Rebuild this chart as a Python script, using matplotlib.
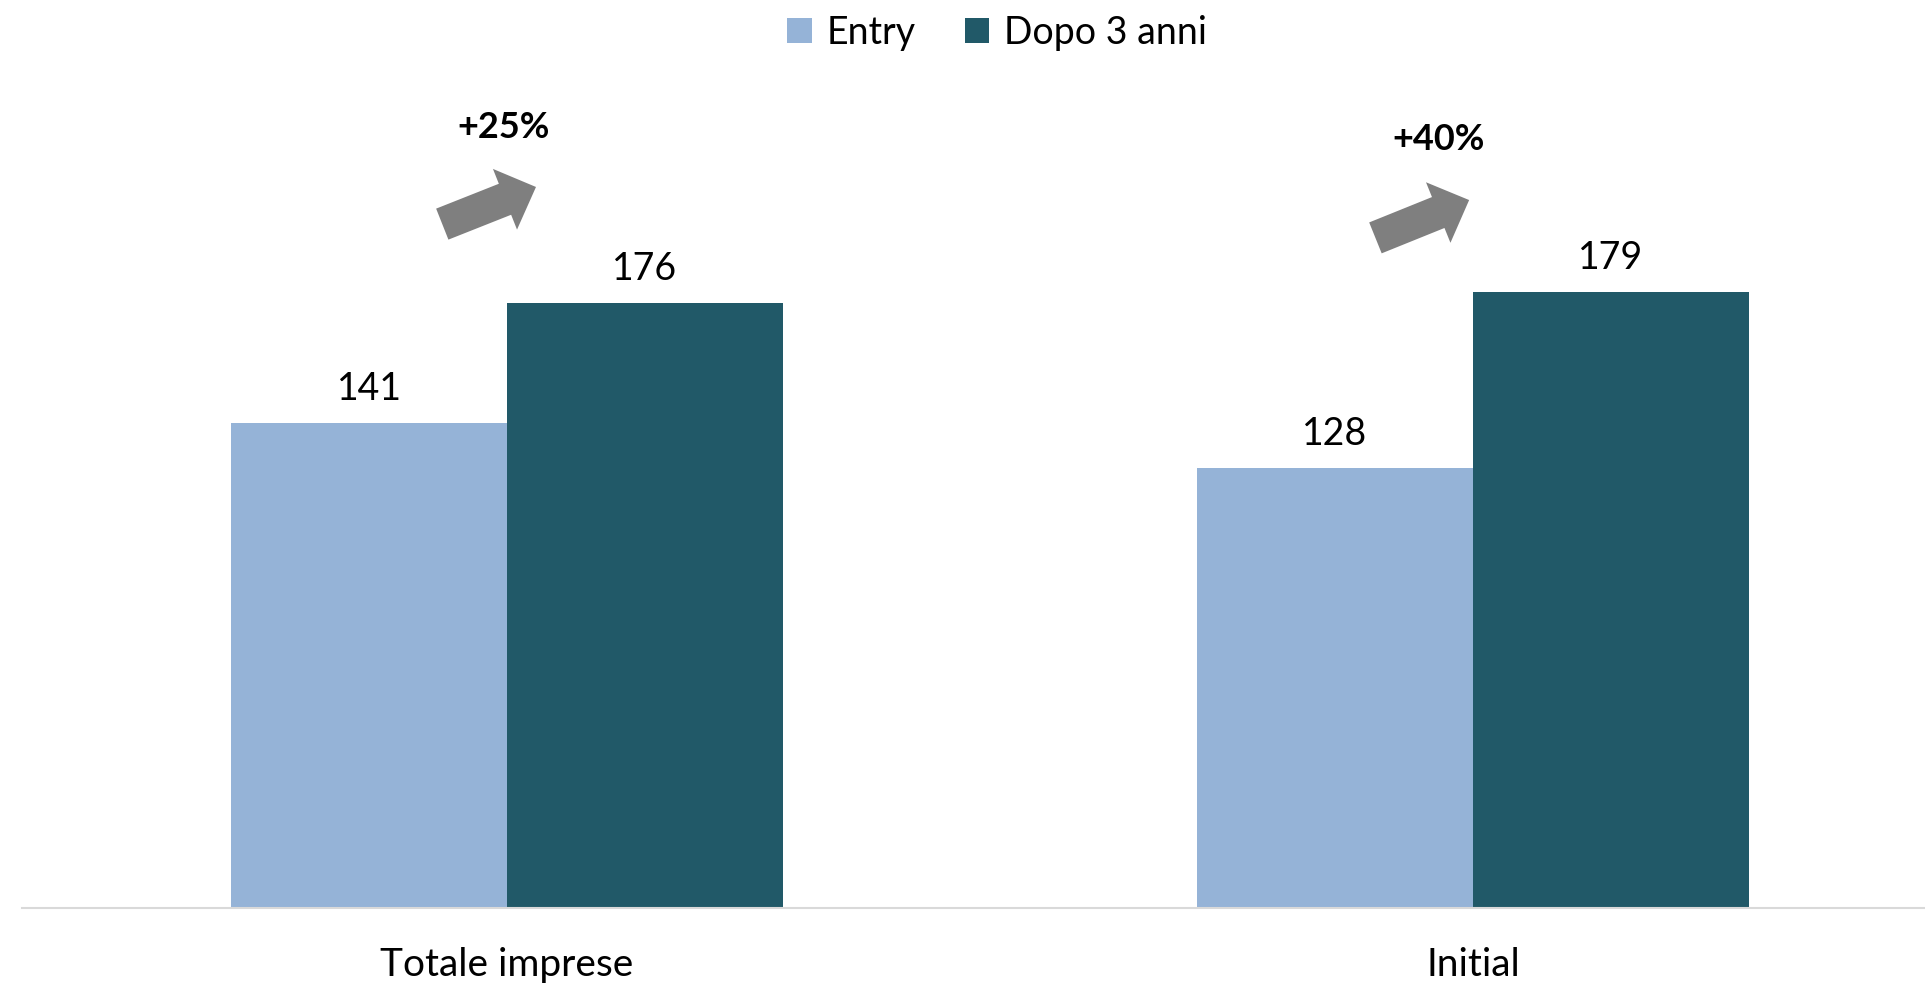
import matplotlib.pyplot as plt
import numpy as np

# data
categories = ['Totale imprese', 'Initial']
series_names = ['Entry', 'Dopo 3 anni']
entry_values = [141, 128]
after_values = [176, 179]
growth_labels = ['+25%', '+40%']

colors = ['#95B3D7', '#215968']
arrow_color = '#7F7F7F'

plt.rcParams['font.family'] = ['Lato', 'DejaVu Sans']

W, H = 1925, 989
fig = plt.figure(figsize=(W / 100, H / 100), dpi=100)

# px per data unit (measured on the reference)
px_y = 3.44
px_x = 966
base_px = 908
left_px = 22
cat0_px = 507

ax = fig.add_axes([left_px / W, (H - base_px) / H, 1 - left_px / W, base_px / H])
ax.set_ylim(0, base_px / px_y)
ax.set_xlim((left_px - cat0_px) / px_x, (W - cat0_px) / px_x)

x = np.arange(len(categories))
w = 276 / px_x
b1 = ax.bar(x - w / 2, entry_values, w, color=colors[0], label=series_names[0])
b2 = ax.bar(x + w / 2, after_values, w, color=colors[1], label=series_names[1])

for bars, vals in ((b1, entry_values), (b2, after_values)):
    for rect, v in zip(bars, vals):
        ax.annotate(f'{v}', xy=(rect.get_x() + rect.get_width() / 2, v),
                    xytext=(0, 16.5), textcoords='offset points',
                    ha='center', va='baseline', fontsize=27)

# growth arrows and percentages (positions relative to each category centre)
arrow_offsets = [((-0.067, 198.8), (0.030, 209.6)),
                 ((-0.101, 194.8), (-0.004, 205.8))]
label_offsets = [(-0.004, 227.0), (-0.036, 223.5)]
for i, lab in enumerate(growth_labels):
    (tx, ty), (hx, hy) = arrow_offsets[i]
    ax.annotate('', xy=(x[i] + hx, hy), xytext=(x[i] + tx, ty),
                arrowprops=dict(arrowstyle='simple,head_length=24,head_width=47,tail_width=24',
                                color=arrow_color, lw=0, shrinkA=0, shrinkB=0,
                                mutation_scale=1))
    lx, ly = label_offsets[i]
    ax.text(x[i] + lx, ly, lab, ha='center', va='center',
            fontsize=26, fontweight='bold')

ax.set_xticks(x)
ax.set_xticklabels(categories, fontsize=28)
ax.tick_params(axis='x', length=0, pad=28)
ax.set_yticks([])
for s in ['top', 'right', 'left']:
    ax.spines[s].set_visible(False)
ax.spines['bottom'].set_color('#D9D9D9')
ax.spines['bottom'].set_linewidth(1.5)

fig.legend(handles=[b1, b2], labels=series_names, loc='upper center',
           bbox_to_anchor=(0.518, 1.008), ncol=2, frameon=False, fontsize=27,
           handlelength=0.65, handleheight=0.65, handletextpad=0.4,
           columnspacing=1.3, borderaxespad=0.2)

fig.savefig('out.png', dpi=100)
